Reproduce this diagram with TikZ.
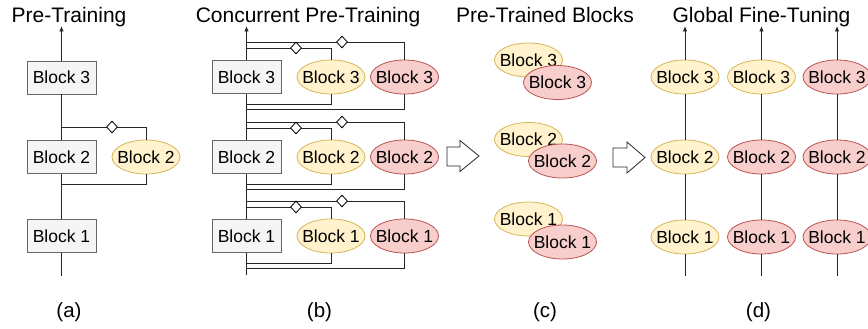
\documentclass[tikz,border=0pt]{standalone}
\usepackage{fontspec}
\setmainfont{Liberation Sans}
\usetikzlibrary{shapes.geometric,arrows.meta}
\definecolor{yfill}{HTML}{FFF2CC}
\definecolor{ydraw}{HTML}{D6B656}
\definecolor{rfill}{HTML}{F8CECC}
\definecolor{rdraw}{HTML}{B85450}
\definecolor{bfill}{HTML}{F5F5F5}
\definecolor{bdraw}{HTML}{666666}
\tikzset{
  blk/.style={font=\fontsize{17.5}{20}\selectfont, inner sep=0pt},
  gbox/.style={blk, rectangle, draw=bdraw, fill=bfill, minimum width=69pt, minimum height=33pt, line width=0.8pt},
  ell/.style={blk, ellipse, inner xsep=-4.7pt, inner ysep=0pt, minimum width=68pt, minimum height=34pt, line width=0.8pt},
  yelell/.style={ell, draw=ydraw, fill=yfill},
  redell/.style={ell, draw=rdraw, fill=rfill},
  wire/.style={line width=0.9pt, draw=black!85},
  upwire/.style={wire, -{Latex[length=5.5pt,width=4.5pt]}},
  dia/.style={diamond, draw=black, fill=white, minimum width=11pt, minimum height=12pt, inner sep=0pt, line width=0.8pt},
  ttl/.style={font=\fontsize{21}{24}\selectfont, anchor=base, inner sep=0pt},
  lab/.style={font=\fontsize{20.5}{24}\selectfont, anchor=base, inner sep=0pt},
  fat/.style={draw=black!85, line width=0.8pt, fill=white, line join=miter},
}
\begin{document}
\begin{tikzpicture}[x=1pt,y=-1pt]
\useasboundingbox (0,0) rectangle (868,329);

% titles and labels
\node[ttl] (t1) at (69,22.5) {Pre-Training};
\node[ttl] (t2) at (308,22.5) {Concurrent Pre-Training};
\node[ttl] (t3) at (545,22.5) {Pre-Trained Blocks};
\node[ttl] (t4) at (761.5,22.5) {Global Fine-Tuning};
\node[lab] (la) at (69,317) {(a)};
\node[lab] (lb) at (319.5,317) {(b)};
\node[lab] (lc) at (545,317) {(c)};
\node[lab] (ld) at (758.5,317) {(d)};

% ---------- panel (a)
\node[gbox] (a3) at (61.5,77.5) {Block 3};
\node[gbox] (a2) at (61.5,157) {Block 2};
\node[gbox] (a1) at (61.5,236) {Block 1};
\node[yelell] (ay) at (146,157) {Block 2};
\coordinate (aTop) at (61.5,26);
\coordinate (aBot) at (61.5,276);
\draw[wire] (aBot) -- (a1.south);
\draw[wire] (a1.north) -- (a2.south);
\draw[wire] (a2.north) -- (a3.south);
\draw[upwire] (a3.north) -- (aTop);
\coordinate (aJ1) at (61.5,127);
\coordinate (aJ2) at (61.5,184);
\draw[wire] (aJ1) -| (ay.north);
\draw[wire] (ay.south) |- (aJ2);
\node[dia] (ad) at (112,127) {};

% ---------- panel (b)
\foreach \r/\c in {1/236,2/157,3/77}{
  \node[gbox] (b\r) at (246.5,\c) {Block \r};
  \node[yelell] (by\r) at (331,\c) {Block \r};
  \node[redell] (br\r) at (404.5,\c) {Block \r};
  \coordinate (bjr\r) at (246.5,{\c-35});
  \coordinate (bjy\r) at (246.5,{\c-29});
  \coordinate (bky\r) at (246.5,{\c+27});
  \coordinate (bkr\r) at (246.5,{\c+32});
  \draw[wire] (bjr\r) -| (br\r.north);
  \draw[wire] (bjy\r) -| (by\r.north);
  \draw[wire] (by\r.south) |- (bky\r);
  \draw[wire] (br\r.south) |- (bkr\r);
  \node[dia] (bdr\r) at (342,{\c-35}) {};
  \node[dia] (bdy\r) at (296,{\c-29}) {};
}
\coordinate (bTop) at (246.5,26);
\coordinate (bBot) at (246.5,275);
\draw[wire] (bBot) -- (b1.south);
\draw[wire] (b1.north) -- (b2.south);
\draw[wire] (b2.north) -- (b3.south);
\draw[upwire] (b3.north) -- (bTop);

% fat arrows
\draw[fat] (447,147) -- (460,147) -- (460,140.5) -- (479,156) -- (460,171.5) -- (460,166) -- (447,166) -- cycle;
\draw[fat] (613,148) -- (627,148) -- (627,142) -- (645,157.5) -- (627,173) -- (627,167) -- (613,167) -- cycle;

% ---------- panel (c)
\node[yelell] (cy3) at (528.5,60) {Block 3};
\node[redell] (cr3) at (557.5,82.5) {Block 3};
\node[yelell] (cy2) at (528.5,139.5) {Block 2};
\node[redell] (cr2) at (562.5,161) {Block 2};
\node[yelell] (cy1) at (528.5,219) {Block 1};
\node[redell] (cr1) at (562.5,242) {Block 1};

% ---------- panel (d)
\foreach \k/\x/\sa/\sb/\sc in {1/685/yelell/yelell/yelell, 2/761.5/yelell/redell/redell, 3/837/redell/redell/redell}{
  \node[\sa] (d\k3) at (\x,77) {Block 3};
  \node[\sb] (d\k2) at (\x,157) {Block 2};
  \node[\sc] (d\k1) at (\x,237) {Block 1};
  \coordinate (dTop\k) at (\x,26);
  \coordinate (dBot\k) at (\x,276);
  \draw[wire] (dBot\k) -- (d\k1.south);
  \draw[wire] (d\k1.north) -- (d\k2.south);
  \draw[wire] (d\k2.north) -- (d\k3.south);
  \draw[upwire] (d\k3.north) -- (dTop\k);
}
\end{tikzpicture}
\end{document}
